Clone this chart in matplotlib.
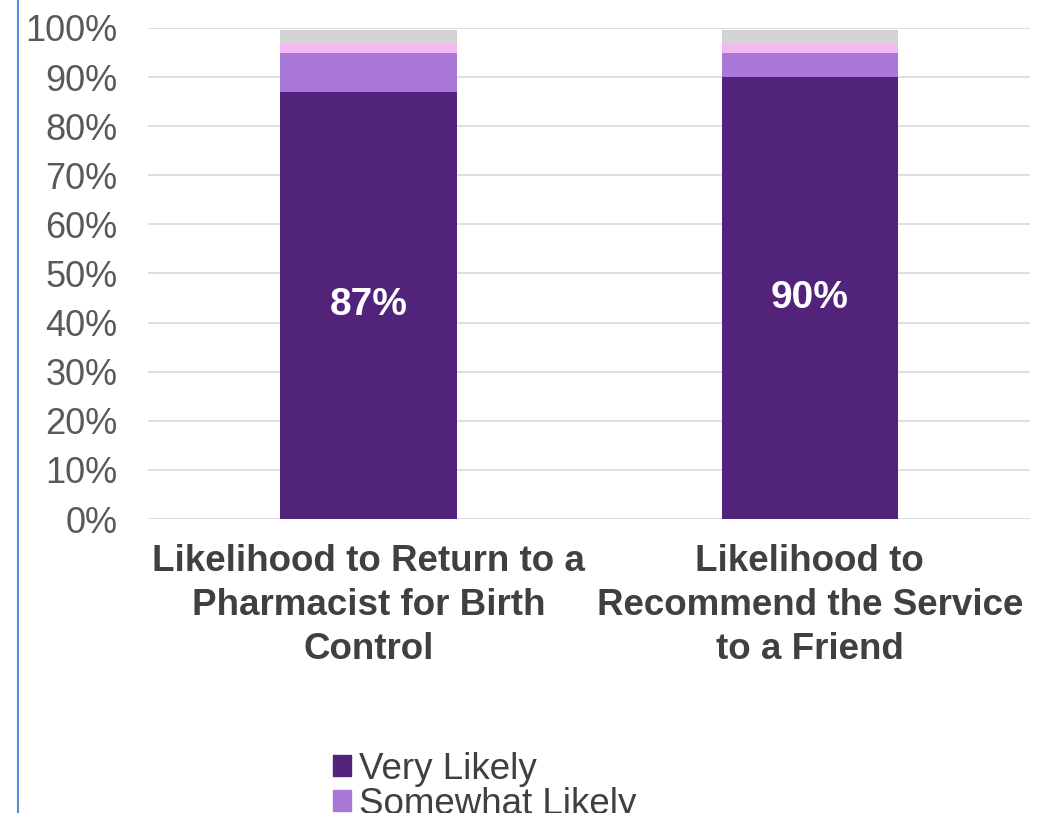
import numpy as np
import matplotlib.pyplot as plt
from matplotlib.lines import Line2D
from matplotlib.patches import Patch

categories = ["Likelihood to Return to a\nPharmacist for Birth\nControl",
              "Likelihood to\nRecommend the Service\nto a Friend"]
very_likely = [87, 90]
somewhat_likely = [8, 5]
third_group = [2, 2]
fourth_group = [2.5, 2.5]

colors = ["#51237a", "#a977d8", "#f4b8f2", "#d4d4d4"]

plt.rcParams['font.family'] = ['Liberation Sans', 'DejaVu Sans']

fig = plt.figure(figsize=(10.48, 8.13), dpi=100)
ax = fig.add_axes([0.1412, 0.3616, 0.842, 0.604])

x = np.arange(len(categories))
w = 0.4
bottom = np.zeros(len(categories))
for vals, c in zip([very_likely, somewhat_likely, third_group, fourth_group], colors):
    ax.bar(x, np.array(vals) / 100, w, bottom=bottom, color=c, zorder=2)
    bottom += np.array(vals) / 100

for xi, v in zip(x, very_likely):
    ax.text(xi, v / 200, f"{v}%", ha="center", va="center", color="white",
            fontsize=28, fontweight="bold", zorder=3)

ax.set_xlim(-0.5, 1.5)
ax.set_ylim(0, 1.0)
ax.set_yticks(np.arange(0, 1.01, 0.1))
ax.set_yticklabels([f"{int(round(t * 100))}%" for t in np.arange(0, 1.01, 0.1)])
ax.yaxis.grid(True, color="#d9d9d9", linewidth=1.2, zorder=0)
ax.set_axisbelow(True)
ax.set_xticks(x)
ax.set_xticklabels(categories, fontsize=26.5, fontweight="bold", color="#404040",
                   linespacing=1.33)
ax.tick_params(axis="y", length=0, pad=22, labelsize=26, labelcolor="#595959")
ax.tick_params(axis="x", length=0, pad=18)
for s in ax.spines.values():
    s.set_visible(False)

handles = [Patch(color=colors[0]), Patch(color=colors[1])]
fig.legend(handles, ["Very Likely", "Somewhat Likely"], loc="upper left",
           bbox_to_anchor=(0.3, 0.098), frameon=False, fontsize=26.5,
           handlelength=0.5, handleheight=0.5, handletextpad=0.22,
           labelspacing=0.0, borderpad=0, labelcolor="#404040")

fig.add_artist(Line2D([0.0175, 0.0175], [0, 1], transform=fig.transFigure,
                      color="#5b8bd9", linewidth=1.5))

fig.savefig("out.png", dpi=100)
